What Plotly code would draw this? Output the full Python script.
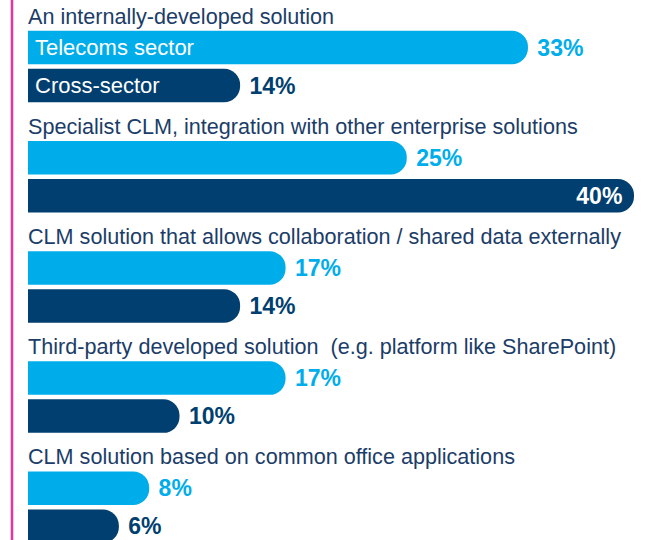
import plotly.graph_objects as go

categories = [
    "An internally-developed solution",
    "Specialist CLM, integration with other enterprise solutions",
    "CLM solution that allows collaboration / shared data externally",
    "Third-party developed solution  (e.g. platform like SharePoint)",
    "CLM solution based on common office applications",
]
telecoms = [33, 25, 17, 17, 8]
cross_sector = [14, 40, 14, 10, 6]
series_names = ["Telecoms sector", "Cross-sector"]

LIGHT = "#00ADEB"
NAVY = "#003F6F"
TITLE_COLOR = "#1B3D68"
FONT = "Liberation Sans, Arial, sans-serif"

W, H = 648, 540
BAR_LEFT = 28          # page x where bars start
PX_PER_PCT = 15.15

# vertical layout, y axis expressed in page pixels (0 at top)
GROUP_STEP = 110.2
TITLE_Y = 16
LIGHT_OFF = 31.5
DARK_OFF = 69.5
BAR_H = 33.5

titles_y = [TITLE_Y + GROUP_STEP * i for i in range(len(categories))]
light_y = [t + LIGHT_OFF for t in titles_y]
dark_y = [t + DARK_OFF for t in titles_y]


def labels(vals, inside_at=40):
    text, pos = [], []
    for v in vals:
        if v >= inside_at:
            text.append(f"{v}%")
            pos.append("inside")
        else:
            text.append(f" {v}%")
            pos.append("outside")
    return text, pos


fig = go.Figure()

for vals, ys, color, name in [
    (telecoms, light_y, LIGHT, series_names[0]),
    (cross_sector, dark_y, NAVY, series_names[1]),
]:
    text, pos = labels(vals)
    fig.add_trace(
        go.Bar(
            x=vals,
            y=ys,
            orientation="h",
            width=BAR_H,
            name=name,
            marker=dict(color=color, cornerradius=16, line=dict(width=0)),
            text=text,
            textposition=pos,
            insidetextanchor="end",
            constraintext="none",
            insidetextfont=dict(color="white", size=23, family=FONT, weight="bold"),
            outsidetextfont=dict(color=color, size=23, family=FONT, weight="bold"),
            cliponaxis=False,
            hoverinfo="skip",
        )
    )

# group titles
for cat, ty in zip(categories, titles_y):
    fig.add_annotation(
        x=0, y=ty, xref="x", yref="y", text=cat, showarrow=False,
        xanchor="left", yanchor="middle", xshift=-2,
        font=dict(size=21.6, color=TITLE_COLOR, family=FONT),
    )

# series names inside the first pair of bars
for name, ys in [(series_names[0], light_y[0]), (series_names[1], dark_y[0])]:
    fig.add_annotation(
        x=0, y=ys, xref="x", yref="y", text=name, showarrow=False,
        xanchor="left", yanchor="middle", xshift=5,
        font=dict(size=22, color="white", family=FONT),
    )

# magenta rule on the left
plot_w = W - BAR_LEFT
rule_x = (12 - BAR_LEFT) / plot_w
fig.add_shape(
    type="line", xref="paper", yref="paper",
    x0=rule_x, x1=rule_x, y0=0, y1=1,
    line=dict(color="#E8359C", width=2.5),
)

fig.update_layout(
    width=W,
    height=H,
    margin=dict(l=BAR_LEFT, r=0, t=0, b=0),
    plot_bgcolor="white",
    paper_bgcolor="white",
    showlegend=False,
    barmode="overlay",
    hovermode=False,
    xaxis=dict(range=[0, plot_w / PX_PER_PCT], visible=False, fixedrange=True),
    yaxis=dict(range=[H, 0], visible=False, fixedrange=True),
)

# drop the default page margin so the figure sits at the top-left corner
fig.write_html(
    "out.html",
    config={"displayModeBar": False},
    post_script="document.body.style.margin = '0';",
)
